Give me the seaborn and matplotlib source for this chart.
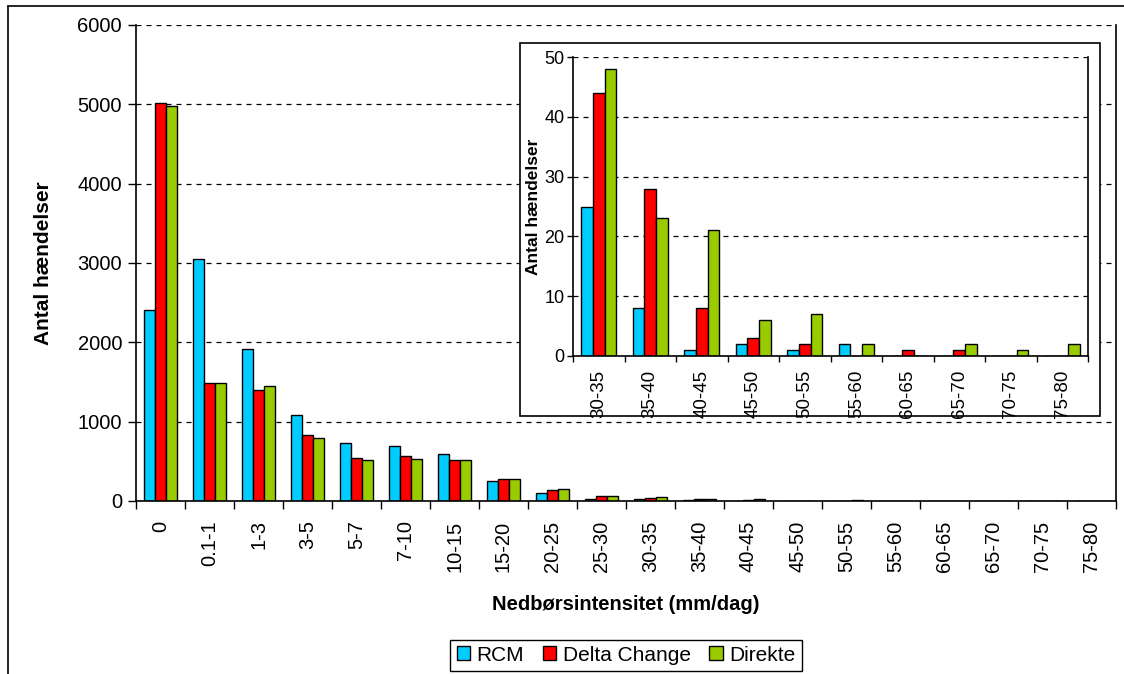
import numpy as np
import pandas as pd
import matplotlib.pyplot as plt
import seaborn as sns
from matplotlib.lines import Line2D
from matplotlib.patches import Rectangle

categories = ["0", "0.1-1", "1-3", "3-5", "5-7", "7-10", "10-15", "15-20", "20-25", "25-30",
              "30-35", "35-40", "40-45", "45-50", "50-55", "55-60", "60-65", "65-70", "70-75", "75-80"]
rcm = [2410, 3050, 1920, 1080, 725, 690, 590, 257, 101, 30, 25, 8, 1, 2, 1, 2, 0, 0, 0, 0]
delta = [5020, 1490, 1400, 833, 540, 565, 518, 274, 139, 63, 44, 28, 8, 3, 2, 0, 1, 1, 0, 0]
direkte = [4980, 1490, 1450, 800, 522, 530, 518, 274, 152, 63, 48, 23, 21, 6, 7, 2, 0, 2, 1, 2]
inset_categories = categories[10:]
series = ["RCM", "Delta Change", "Direkte"]
colors = ["#00CCFF", "#FF0000", "#99CC00"]

df = pd.DataFrame({
    "kategori": categories * 3,
    "serie": [s for s in series for _ in categories],
    "antal": rcm + delta + direkte,
})
df_inset = df[df["kategori"].isin(inset_categories)]

sns.set_style("white")
plt.rcParams["font.family"] = ["Liberation Sans", "DejaVu Sans"]
plt.rcParams["text.color"] = "black"
plt.rcParams["axes.labelcolor"] = "black"
plt.rcParams["xtick.color"] = "black"
plt.rcParams["ytick.color"] = "black"

W, H = 1124, 674
fig = plt.figure(figsize=(W / 100, H / 100), dpi=100)

# ramme om hele diagrammet (beskaaret i hoejre og nederst)
fig.add_artist(Line2D([8 / W, 8 / W], [0, 1 - 6 / H], transform=fig.transFigure, color="black", lw=1.2))
fig.add_artist(Line2D([8 / W, 1], [1 - 6 / H, 1 - 6 / H], transform=fig.transFigure, color="black", lw=1.2))

# hovedplot
ax = fig.add_axes([136 / W, 1 - 501 / H, 980 / W, 476 / H])
sns.barplot(data=df, x="kategori", y="antal", hue="serie", order=categories, hue_order=series,
            palette=colors, saturation=1, width=0.67, edgecolor="black", linewidth=1,
            errorbar=None, legend=False, ax=ax)
ax.set_ylim(0, 6000)
ax.set_xlim(-0.5, len(categories) - 0.5)
ax.set_yticks(range(0, 6001, 1000))
ax.yaxis.grid(True, linestyle=(0, (4, 4)), color="black", linewidth=0.9)
ax.set_axisbelow(True)
for side in ["left", "bottom", "right"]:
    ax.spines[side].set_color("black")
    ax.spines[side].set_linewidth(1.2)
ax.spines["top"].set_visible(False)
ax.set_xticks(range(len(categories)))
ax.set_xticklabels(categories, rotation=90)
ax.set_xticks(np.arange(-0.5, len(categories)), minor=True)
ax.tick_params(axis="x", which="major", length=0, pad=14, labelsize=14.5)
ax.tick_params(axis="x", which="minor", length=6, width=1, direction="out", bottom=True)
ax.tick_params(axis="y", length=6, width=1, direction="out", left=True, pad=4, labelsize=14.5)
ax.set_xlabel("Nedbørsintensitet (mm/dag)", fontsize=14.5, fontweight="bold")
ax.set_ylabel("Antal hændelser", fontsize=15, fontweight="bold")
ax.xaxis.set_label_coords(0.5, -(595 - 501) / 476)
ax.yaxis.set_label_coords((53 - 136) / 980, 0.5)

# ramme om indsat plot
fig.add_artist(Rectangle((520 / W, 1 - 416 / H), 580 / W, 373 / H, transform=fig.transFigure,
                         facecolor="white", edgecolor="black", lw=1.2, zorder=1))

# indsat plot
ins = fig.add_axes([573 / W, 1 - 356 / H, 515 / W, 299 / H], zorder=2)
sns.barplot(data=df_inset, x="kategori", y="antal", hue="serie", order=inset_categories,
            hue_order=series, palette=colors, saturation=1, width=0.68, edgecolor="black",
            linewidth=1, errorbar=None, legend=False, ax=ins)
ins.set_ylim(0, 50)
ins.set_xlim(-0.5, len(inset_categories) - 0.5)
ins.set_yticks(range(0, 51, 10))
ins.yaxis.grid(True, linestyle=(0, (4, 4)), color="black", linewidth=0.9)
ins.set_axisbelow(True)
for side in ["left", "bottom", "right"]:
    ins.spines[side].set_color("black")
    ins.spines[side].set_linewidth(1.2)
ins.spines["top"].set_visible(False)
ins.set_xticks(range(len(inset_categories)))
ins.set_xticklabels(inset_categories, rotation=90)
ins.set_xticks(np.arange(-0.5, len(inset_categories)), minor=True)
ins.tick_params(axis="x", which="major", length=0, pad=10, labelsize=13.5)
ins.tick_params(axis="x", which="minor", length=4.5, width=1, direction="out", bottom=True)
ins.tick_params(axis="y", length=4, width=1, direction="out", left=True, pad=2, labelsize=13)
ins.set_xlabel("")
ins.set_ylabel("Antal hændelser", fontsize=12.5, fontweight="bold")
ins.yaxis.set_label_coords((541 - 573) / 515, 0.5)

# forklaring
handles = [Rectangle((0, 0), 1, 1, facecolor=c, edgecolor="black", lw=1) for c in colors]
leg = fig.legend(handles, series, loc="lower center", bbox_to_anchor=(626 / W, 1 - 671 / H),
                 ncol=3, fontsize=15, frameon=True, fancybox=False, framealpha=1,
                 edgecolor="black", handlelength=0.65, handleheight=0.65, handletextpad=0.3,
                 columnspacing=0.9, borderpad=0.3, borderaxespad=0)
leg.get_frame().set_linewidth(1)

fig.savefig("out.png", dpi=100)
